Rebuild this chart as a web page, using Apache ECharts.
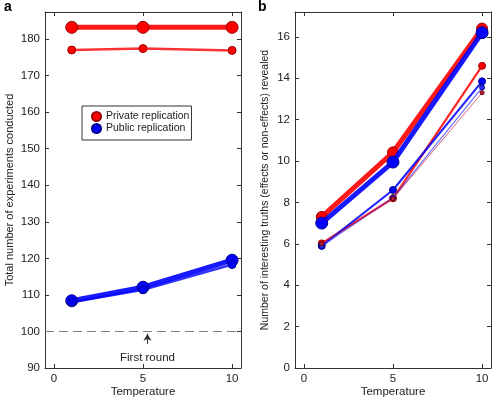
<html lang="en">
  <head>
    <meta charset="UTF-8" />
    <title>Replication</title>
  </head>
  <body style="margin: 0">
    <div id="main" style="width: 495px; height: 400px"></div>

    <script src="https://cdn.jsdelivr.net/npm/echarts@6/dist/echarts.min.js"></script>
    <script>
      // temperature values on the x axis
      const temps = [1, 5, 10]
      const xTicks = [0, 5, 10]
      const aTicks = [90, 100, 110, 120, 130, 140, 150, 160, 170, 180]
      const bTicks = [0, 2, 4, 6, 8, 10, 12, 14, 16]

      // panel a: total experiments conducted
      const aPrivThick = [183.2, 183.2, 183.2]
      const aPrivMed = [177.0, 177.4, 176.9]
      const aPubThick = [108.4, 112.1, 119.5]
      const aPubMed = [108.0, 111.4, 118.3]
      const firstRound = 100

      // panel b: interesting truths revealed
      const bPrivThick = [7.3, 10.42, 16.4]
      const bPubThick = [7.0, 9.95, 16.2]
      const bPrivMed = [6.02, 8.2, 14.6]
      const bPubMed = [5.9, 8.6, 13.85]
      const bPubThin = [5.9, 8.22, 13.55]
      const bPrivThin = [6.0, 8.18, 13.3]

      const FONT = 'Liberation Sans, Arial, sans-serif'
      const PRIV = 'Private replication'
      const PUB = 'Public replication'

      let mCharts = echarts.init(document.querySelector('#main'))

      const pts = (ys) => temps.map((t, i) => [t, ys[i]])

      function line(name, ys, xi, width, size, color, border, opacity, z) {
        return {
          name: name,
          type: 'line',
          xAxisIndex: xi,
          yAxisIndex: xi,
          data: pts(ys),
          symbol: 'circle',
          symbolSize: size,
          z: z,
          lineStyle: { width: width, color: color, opacity: opacity },
          itemStyle: { color: color, borderColor: border, borderWidth: 1 },
          emphasis: { disabled: true },
          animation: false
        }
      }

      const axisLine = { show: true, onZero: false, lineStyle: { color: '#333' } }

      function mainX(gi) {
        return {
          type: 'value', gridIndex: gi, min: -0.5, max: 10.5,
          name: 'Temperature', nameLocation: 'middle', nameGap: 18, nameMoveOverlap: false,
          nameTextStyle: { fontFamily: FONT, fontSize: 11.5, color: '#222' },
          axisLine: axisLine,
          axisTick: { inside: true, length: 4, customValues: xTicks, lineStyle: { color: '#333' } },
          axisLabel: { customValues: xTicks, margin: 5, fontFamily: FONT, fontSize: 11.5, color: '#222' },
          splitLine: { show: false }
        }
      }
      function topX(gi) {
        return {
          type: 'value', gridIndex: gi, position: 'top', min: -0.5, max: 10.5,
          axisLine: axisLine,
          axisTick: { inside: true, length: 4, customValues: xTicks, lineStyle: { color: '#333' } },
          axisLabel: { show: false },
          splitLine: { show: false }
        }
      }
      function mainY(gi, min, max, ticks, name, gap, fs) {
        return {
          type: 'value', gridIndex: gi, min: min, max: max,
          name: name, nameLocation: 'middle', nameGap: gap,
          nameTextStyle: { fontFamily: FONT, fontSize: fs, color: '#222' },
          axisLine: axisLine,
          axisTick: { show: true, inside: true, length: 4, customValues: ticks, lineStyle: { color: '#333' } },
          axisLabel: { customValues: ticks, margin: 5, fontFamily: FONT, fontSize: 11.5, color: '#222' },
          splitLine: { show: false }
        }
      }
      function rightY(gi, min, max, ticks) {
        return {
          type: 'value', gridIndex: gi, position: 'right', min: min, max: max,
          axisLine: axisLine,
          axisTick: { show: true, inside: true, length: 4, customValues: ticks, lineStyle: { color: '#333' } },
          axisLabel: { show: false },
          splitLine: { show: false }
        }
      }

      const RED = '#ff0000', RED_B = '#990000'
      const BLUE = '#0000ff', BLUE_B = '#000088'

      let option = {
        animation: false,
        title: [
          { text: 'a', left: 4, top: 0, padding: 0, textStyle: { fontFamily: FONT, fontSize: 14, fontWeight: 'bold', color: '#000' } },
          { text: 'b', left: 258, top: 0, padding: 0, textStyle: { fontFamily: FONT, fontSize: 14, fontWeight: 'bold', color: '#000' } }
        ],
        legend: {
          data: [PRIV, PUB],
          orient: 'vertical',
          left: 82,
          top: 106,
          padding: [5, 2, 6, 9],
          itemGap: 1,
          itemWidth: 9,
          itemHeight: 9,
          borderColor: '#333',
          borderWidth: 1,
          backgroundColor: '#fff',
          icon: 'circle',
          textStyle: { fontFamily: FONT, fontSize: 10.5, color: '#222' }
        },
        grid: [
          { left: 45, top: 12, width: 196, height: 356, outerBoundsMode: 'none', containLabel: false },
          { left: 295, top: 12, width: 196, height: 356, outerBoundsMode: 'none', containLabel: false }
        ],
        xAxis: [mainX(0), mainX(1), topX(0), topX(1)],
        yAxis: [
          mainY(0, 90, 187.4, aTicks, 'Total number of experiments conducted', 30, 11),
          mainY(1, 0, 17.2, bTicks, 'Number of interesting truths (effects or non-effects) revealed', 24, 10.5),
          rightY(0, 90, 187.4, aTicks),
          rightY(1, 0, 17.2, bTicks)
        ],
        series: [
          line(PRIV, aPrivThick, 0, 5, 12, RED, RED_B, 0.9, 3),
          line(PRIV, aPrivMed, 0, 2.5, 8, RED, RED_B, 0.8, 3),
          line(PUB, aPubThick, 0, 5, 12, BLUE, BLUE_B, 0.9, 4),
          line(PUB, aPubMed, 0, 2.5, 8, BLUE, BLUE_B, 0.8, 4),
          line(PRIV, bPrivThick, 1, 5, 11, RED, RED_B, 0.9, 3),
          line(PUB, bPubThick, 1, 5, 12, BLUE, BLUE_B, 0.9, 4),
          line(PRIV, bPrivMed, 1, 2.2, 7, RED, RED_B, 0.85, 3),
          line(PUB, bPubMed, 1, 2.2, 7, BLUE, BLUE_B, 0.85, 4),
          line(PUB, bPubThin, 1, 1.2, 5, '#3030ff', BLUE_B, 0.7, 5),
          line(PRIV, bPrivThin, 1, 1, 4, '#cc2040', '#550000', 0.7, 6),
          {
            type: 'line',
            xAxisIndex: 0,
            yAxisIndex: 0,
            data: [],
            silent: true,
            markLine: {
              silent: true,
              animation: false,
              symbol: ['none', 'none'],
              label: { show: false },
              lineStyle: { color: '#808080', type: [9, 5], width: 1 },
              data: [
                [{ coord: [-0.5, firstRound] }, { coord: [10.5, firstRound] }],
                [
                  {
                    coord: [5.25, 96.6],
                    symbol: 'none',
                    lineStyle: { color: '#333', type: 'solid', width: 1 },
                    label: {
                      show: true, position: 'start', distance: 8, formatter: 'First round',
                      fontFamily: FONT, fontSize: 11.5, color: '#222'
                    }
                  },
                  { coord: [5.25, 99.4], symbol: 'arrow', symbolSize: [6, 7] }
                ]
              ]
            }
          }
        ]
      }
      mCharts.setOption(option)
    </script>
  </body>
</html>
